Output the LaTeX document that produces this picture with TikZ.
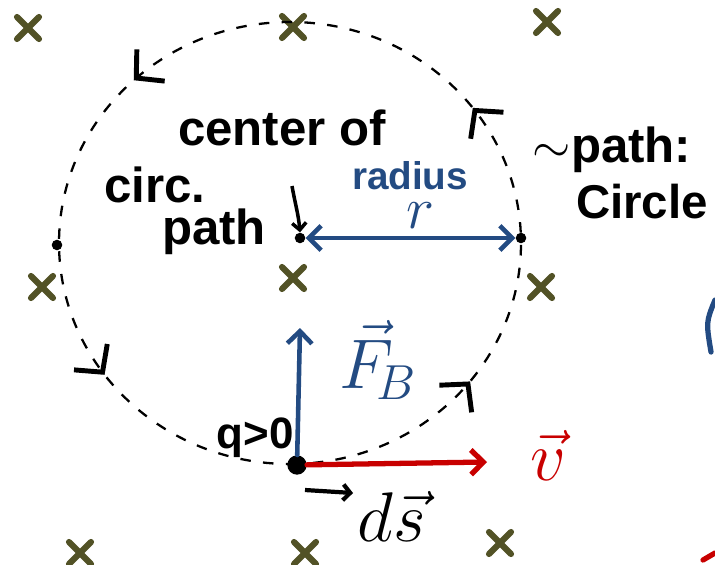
\documentclass[tikz,border=0pt]{standalone}
\usepackage{fix-cm}
\usepackage{fontspec}
\setmainfont{Liberation Sans}
\usetikzlibrary{arrows.meta,decorations.markings}

\definecolor{fieldolive}{RGB}{82,82,38}
\definecolor{forceblue}{RGB}{35,75,130}
\definecolor{velred}{RGB}{200,0,0}

\begin{document}
\begin{tikzpicture}[
x=0.02cm,
y=-0.02cm,
hand/.style={
font=\bfseries\fontsize{28}{30}\selectfont,
inner sep=0pt
},
smallhand/.style={
font=\bfseries\fontsize{22}{24}\selectfont,
inner sep=0pt
},
mathlabel/.style={
font=\fontsize{40}{42}\selectfont,
inner sep=0pt
},
xmark/.style={
fieldolive,
line width=3.5pt,
line cap=round
},
dotpt/.style={
circle,
fill=black,
inner sep=0pt,
minimum size=6pt
},
orbit/.style={
dash pattern=on 6pt off 7pt,
line width=1.3pt,
postaction={decorate},
decoration={markings,
mark=at position 0.144 with {\arrow{Straight Barb[length=11pt,width=24pt,line width=2.8pt]}},
mark=at position 0.353 with {\arrow{Straight Barb[length=11pt,width=24pt,line width=2.8pt]}},
mark=at position 0.62 with {\arrow{Straight Barb[length=11pt,width=24pt,line width=2.8pt]}},
mark=at position 0.85 with {\arrow{Straight Barb[length=11pt,width=24pt,line width=2.8pt]}}}
},
vecarrow/.style={
-{Straight Barb[length=7pt,width=14pt]},
line width=2.6pt,
line cap=round
}
]

\useasboundingbox (0,0) rectangle (715,564);

% magnetic field into the page

\foreach \x/\y in {28/28, 293/27, 547/22, 42/287, 293/278, 541/287, 80/553, 305/553, 500/543}
\draw[xmark] (\x-11,\y-11) -- (\x+11,\y+11) (\x-11,\y+11) -- (\x+11,\y-11);


% circular path

\draw[orbit] (290,464) arc[start angle=90, end angle=-270, x radius=231, y radius=221];

\node (center) [dotpt] at (300,238) {};
\node (rightpt) [dotpt] at (521,238) {};
\node (leftpt) [dotpt] at (57,245) {};
\node (charge) [dotpt, minimum size=11pt] at (297,465) {};


% labels

\node (centerof) [hand] at (282,128) {center of};
\node (circ) [hand] at (155,185) {circ.};
\node (pathl) [hand] at (214,232) {path};
\node (pathr) [hand] at (612,150) {$\sim$path:};
\node (circle) [hand, font=\bfseries\fontsize{27}{29}\selectfont] at (642,202) {Circle};
\node (charge label) [smallhand, font=\bfseries\fontsize{25}{27}\selectfont] at (255,438) {q>0};

\draw[-{Straight Barb[length=4pt,width=8pt]}, line width=2pt] (292,186) to[out=-80, in=95] (center.north);


% radius

\draw[{Straight Barb[length=7pt,width=14pt]}-{Straight Barb[length=7pt,width=14pt]}, forceblue, line width=2.6pt] (center) -- (rightpt);
\node (radius) [smallhand, forceblue] at (410,176) {radius};
\node (rlabel) [mathlabel, forceblue, font=\fontsize{34}{36}\selectfont] at (420,216) {$r$};


% force and velocity

\coordinate (ftip) at (300,328);
\coordinate (vtip) at (487,462);
\draw[vecarrow, forceblue] (charge) -- (ftip);
\draw[vecarrow, velred, line width=3pt] (charge) -- (vtip);
\node (flabel) [mathlabel, forceblue] at (378,360) {$\vec{F}_{\!B}$};
\node (vlabel) [mathlabel, velred] at (548,455) {$\vec{v}$};


% path element

\coordinate (dsstart) at (305,490);
\coordinate (dsend) at (353,493);
\draw[-{Straight Barb[length=4pt,width=9pt]}, line width=2.4pt] (dsstart) -- (dsend);
\node (dslabel) [mathlabel] at (392,516) {$d\vec{s}$};


% pieces at the right edge

\draw[forceblue, line width=3pt, line cap=round] (711,352) .. controls (706,322) .. (715,300);
\draw[velred, line width=3pt, line cap=round] (703,560) -- (715,553);

\end{tikzpicture}
\end{document}
